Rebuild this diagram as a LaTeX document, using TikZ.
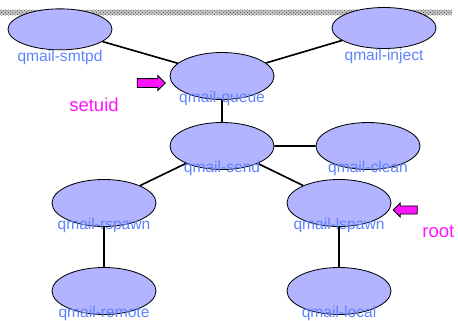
\documentclass[tikz,border=0pt]{standalone}
\usepackage{fontspec}
\setmainfont{Liberation Sans}
\usetikzlibrary{shapes,arrows,positioning,patterns}
\definecolor{procfill}{RGB}{178,180,255}
\definecolor{proctext}{RGB}{95,130,255}
\definecolor{hot}{RGB}{255,20,255}

\begin{document}
\begin{tikzpicture}[node distance=2cm,on grid,
  proc/.style={ellipse,draw,line width=0.7pt,fill=procfill,minimum width=3.12cm,minimum height=1.41cm,inner sep=0pt},
  tag/.style={text=proctext,font=\fontsize{13.3}{15}\selectfont,anchor=center,yshift=0.17cm,inner sep=0pt},
  pointer/.style={single arrow,draw,line width=0.7pt,fill=hot,inner sep=0.12cm,minimum height=0.84cm,single arrow head extend=0.09cm},
  note/.style={text=hot,font=\fontsize{15.8}{18}\selectfont}]
\useasboundingbox (0,0) rectangle (13.74,-9.6);
\fill[gray!45] (0,-0.29) rectangle (13.56,-0.46);
\fill[pattern=crosshatch dots,pattern color=gray!60!black] (0,-0.29) rectangle (13.56,-0.46);

\node[proc] (queue) at (6.66,-2.28) {};
\node[proc,minimum height=1.23cm] (smtpd) [above left=1.4cm and 4.86cm of queue] {};
\node[proc,minimum height=1.23cm] (inject) [above right=1.44cm and 4.86cm of queue] {};
\node[proc] (send) [below=2.1cm of queue] {};
\node[proc] (clean) [right=4.38cm of send] {};
\node[proc] (rspawn) [below left=1.71cm and 3.54cm of send] {};
\node[proc] (lspawn) [below right=1.71cm and 3.51cm of send] {};
\node[proc] (remote) [below=2.64cm of rspawn] {};
\node[proc] (local) [below=2.64cm of lspawn] {};

\path[draw,line width=1.4pt] (smtpd) -- (queue)
  (inject) -- (queue)
  (queue) -- (send)
  (send) -- (clean)
  (send) -- (rspawn)
  (send) -- (lspawn)
  (rspawn) -- (remote)
  (lspawn) -- (local);

\node[label={[tag,yshift=-0.27cm]south:qmail-smtpd}] at (smtpd.south) {};
\node[label={[tag,yshift=-0.27cm]south:qmail-inject}] at (inject.south) {};
\node[label={[tag]south:qmail-queue}] at (queue.south) {};
\node[label={[tag]south:qmail-send}] at (send.south) {};
\node[label={[tag]south:qmail-clean}] at (clean.south) {};
\node[label={[tag]south:qmail-rspawn}] at (rspawn.south) {};
\node[label={[tag]south:qmail-lspawn}] at (lspawn.south) {};
\node[label={[tag]south:qmail-remote}] at (remote.south) {};
\node[label={[tag]south:qmail-local}] at (local.south) {};

\node[pointer] (qarrow) [below left=0.21cm and 2.19cm of queue] {};
\node[pointer,shape border rotate=180,minimum height=0.72cm,inner sep=0.11cm,single arrow head extend=0.085cm] (larrow) [below right=0.21cm and 2.05cm of lspawn] {};
\node[note] (setuid) [below left=0.66cm and 1.65cm of qarrow] {setuid};
\node[note] (root) [below right=0.66cm and 0.93cm of larrow] {root};
\end{tikzpicture}
\end{document}
